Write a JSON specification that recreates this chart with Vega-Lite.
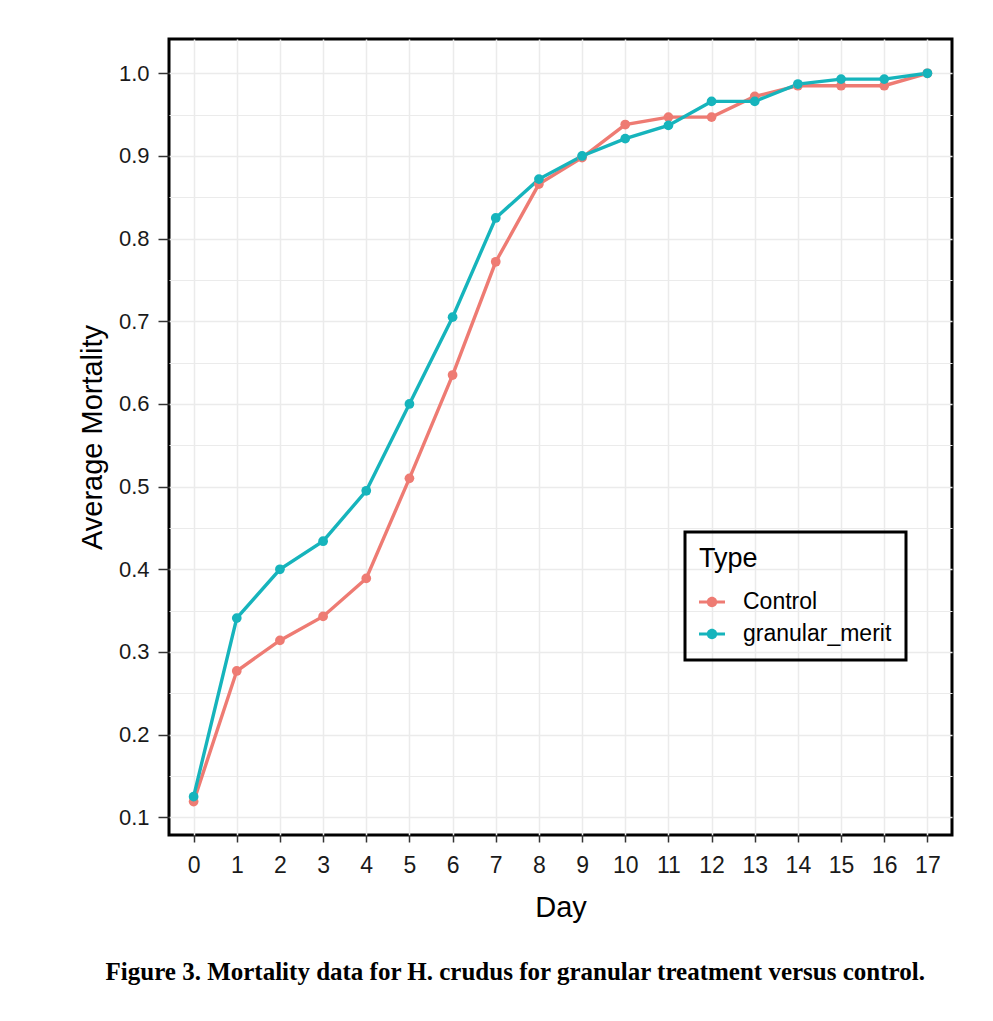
{
  "$schema": "https://vega.github.io/schema/vega-lite/v6.json",
  "autosize": {"type": "none"},
  "padding": {"left": 169, "top": 39, "right": 41, "bottom": 186},
  "width": 783,
  "height": 796,
  "background": "white",
  "title": {
    "text": "Figure 3. Mortality data for H. crudus for granular treatment versus control.",
    "orient": "bottom",
    "anchor": "middle",
    "frame": "bounds",
    "font": "Liberation Serif",
    "fontSize": 25,
    "fontWeight": "bold",
    "color": "black",
    "offset": 38
  },
  "data": {
    "values": [
      {"Day": 0, "Mortality": 0.119, "Type": "Control"},
      {"Day": 1, "Mortality": 0.277, "Type": "Control"},
      {"Day": 2, "Mortality": 0.314, "Type": "Control"},
      {"Day": 3, "Mortality": 0.343, "Type": "Control"},
      {"Day": 4, "Mortality": 0.389, "Type": "Control"},
      {"Day": 5, "Mortality": 0.51, "Type": "Control"},
      {"Day": 6, "Mortality": 0.635, "Type": "Control"},
      {"Day": 7, "Mortality": 0.772, "Type": "Control"},
      {"Day": 8, "Mortality": 0.866, "Type": "Control"},
      {"Day": 9, "Mortality": 0.898, "Type": "Control"},
      {"Day": 10, "Mortality": 0.938, "Type": "Control"},
      {"Day": 11, "Mortality": 0.947, "Type": "Control"},
      {"Day": 12, "Mortality": 0.947, "Type": "Control"},
      {"Day": 13, "Mortality": 0.972, "Type": "Control"},
      {"Day": 14, "Mortality": 0.985, "Type": "Control"},
      {"Day": 15, "Mortality": 0.985, "Type": "Control"},
      {"Day": 16, "Mortality": 0.985, "Type": "Control"},
      {"Day": 17, "Mortality": 1.0, "Type": "Control"},
      {"Day": 0, "Mortality": 0.125, "Type": "granular_merit"},
      {"Day": 1, "Mortality": 0.341, "Type": "granular_merit"},
      {"Day": 2, "Mortality": 0.4, "Type": "granular_merit"},
      {"Day": 3, "Mortality": 0.434, "Type": "granular_merit"},
      {"Day": 4, "Mortality": 0.495, "Type": "granular_merit"},
      {"Day": 5, "Mortality": 0.6, "Type": "granular_merit"},
      {"Day": 6, "Mortality": 0.705, "Type": "granular_merit"},
      {"Day": 7, "Mortality": 0.825, "Type": "granular_merit"},
      {"Day": 8, "Mortality": 0.872, "Type": "granular_merit"},
      {"Day": 9, "Mortality": 0.9, "Type": "granular_merit"},
      {"Day": 10, "Mortality": 0.921, "Type": "granular_merit"},
      {"Day": 11, "Mortality": 0.937, "Type": "granular_merit"},
      {"Day": 12, "Mortality": 0.966, "Type": "granular_merit"},
      {"Day": 13, "Mortality": 0.966, "Type": "granular_merit"},
      {"Day": 14, "Mortality": 0.987, "Type": "granular_merit"},
      {"Day": 15, "Mortality": 0.993, "Type": "granular_merit"},
      {"Day": 16, "Mortality": 0.993, "Type": "granular_merit"},
      {"Day": 17, "Mortality": 1.0, "Type": "granular_merit"}
    ]
  },
  "encoding": {
    "x": {
      "field": "Day",
      "type": "quantitative",
      "scale": {"domain": [-0.57, 17.57], "nice": false, "zero": false},
      "axis": {
        "values": [0,1,2,3,4,5,6,7,8,9,10,11,12,13,14,15,16,17],
        "format": "d",
        "grid": true,
        "gridColor": "#ebebeb",
        "gridWidth": 1.5,
        "domain": false,
        "ticks": true,
        "tickSize": 7,
        "tickColor": "#333333",
        "tickWidth": 1.5,
        "labelFont": "Liberation Sans",
        "labelFontSize": 23,
        "labelColor": "#1a1a1a",
        "labelPadding": 12,
        "labelFlush": false,
        "labelOverlap": false,
        "title": "Day",
        "titleFont": "Liberation Sans",
        "titleFontSize": 29,
        "titleFontWeight": "normal",
        "titleColor": "black",
        "titlePadding": 16
      }
    },
    "y": {
      "field": "Mortality",
      "type": "quantitative",
      "scale": {"domain": [0.0786, 1.0415], "nice": false, "zero": false},
      "axis": {
        "values": [0.1,0.15,0.2,0.25,0.3,0.35,0.4,0.45,0.5,0.55,0.6,0.65,0.7,0.75,0.8,0.85,0.9,0.95,1.0],
        "labelExpr": "round(datum.value*100) % 10 == 0 ? format(datum.value, '.1f') : ''",
        "grid": true,
        "gridColor": "#ebebeb",
        "gridWidth": {"condition": {"test": "round(datum.value*100) % 10 == 0", "value": 1.5}, "value": 1},
        "domain": false,
        "ticks": true,
        "tickSize": 11,
        "tickColor": "#333333",
        "tickWidth": 1.5,
        "tickOpacity": {"condition": {"test": "round(datum.value*100) % 10 == 0", "value": 1}, "value": 0},
        "labelFont": "Liberation Sans",
        "labelFontSize": 22,
        "labelColor": "#1a1a1a",
        "labelPadding": 9,
        "labelFlush": false,
        "labelOverlap": false,
        "title": "Average Mortality",
        "titleFont": "Liberation Sans",
        "titleFontSize": 29,
        "titleFontWeight": "normal",
        "titleColor": "black",
        "titlePadding": 11
      }
    },
    "color": {
      "field": "Type",
      "type": "nominal",
      "scale": {"domain": ["Control", "granular_merit"], "range": ["#ee7b73", "#16b4bc"]},
      "legend": {
        "orient": "none",
        "legendX": 516,
        "legendY": 493,
        "title": "Type",
        "titleFont": "Liberation Sans",
        "titleFontSize": 27,
        "titleFontWeight": "normal",
        "titleColor": "black",
        "titlePadding": 16,
        "labelFont": "Liberation Sans",
        "labelFontSize": 23,
        "labelColor": "black",
        "labelOffset": 18,
        "rowPadding": 7,
        "padding": 14,
        "strokeColor": "black",
        "symbolType": "M-1,-0.12L1,-0.12L1,0.12L-1,0.12Z M-0.4,0A0.4,0.4,0,1,1,0.4,0A0.4,0.4,0,1,1,-0.4,0Z",
        "symbolSize": 676,
        "symbolStrokeWidth": 0,
        "encode": {
          "legend": {"update": {"strokeWidth": {"value": 3}}},
          "symbols": {"update": {"fill": {"scale": "color", "field": "value"}, "stroke": {"value": "transparent"}, "opacity": {"value": 1}}}
        }
      }
    }
  },
  "layer": [
    {"mark": {"type": "line", "strokeWidth": 3.4}},
    {"mark": {"type": "point", "filled": true, "size": 95, "opacity": 1}}
  ],
  "config": {
    "view": {"stroke": "black", "strokeWidth": 3}
  }
}
